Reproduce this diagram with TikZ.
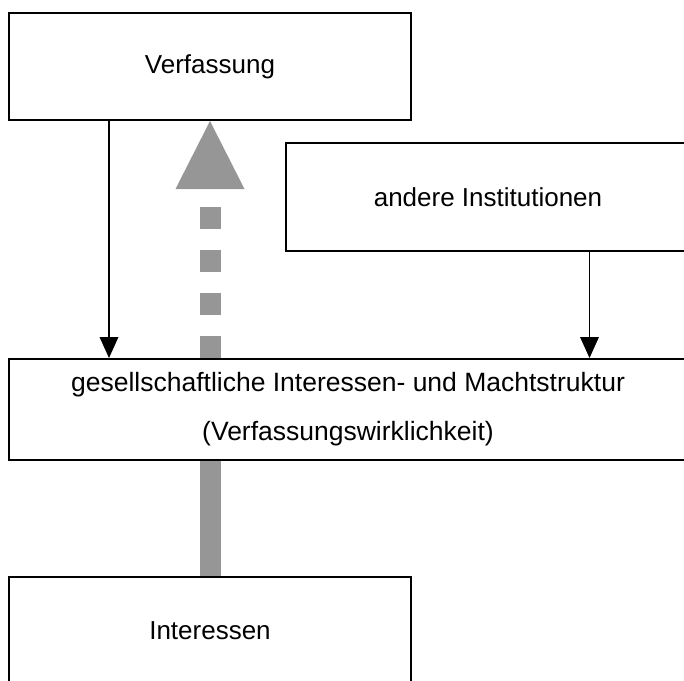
\documentclass[tikz,border=0pt]{standalone}
\usepackage{fontspec}
\setmainfont{Liberation Sans}
\usetikzlibrary{arrows.meta,calc}
\definecolor{arrgray}{RGB}{150,150,150}
\begin{document}
\begin{tikzpicture}[x=1pt,y=-1pt,
  box/.style={draw=black,line width=2pt,rectangle,inner sep=0pt,font=\fontsize{26}{49}\selectfont,align=center},
  blk/.style={draw=black,line width=1.5pt,-{Triangle[width=19pt,length=21pt,line width=0pt]}},
  grayup/.style={draw=arrgray,line width=21pt,dash pattern=on 22pt off 21pt,-{Triangle[width=69pt,length=68pt,line width=0pt,fill=arrgray]}},
  graybar/.style={draw=arrgray,line width=21pt}]
\useasboundingbox (0,0) rectangle (684,680);
\clip (0,0) rectangle (684,680);
\node[box,minimum width=402pt,minimum height=107pt] (verf) at (210,66.5) {Verfassung};
\node[box,minimum width=404pt,minimum height=108pt] (andere) at (488,197) {andere Institutionen};
\node[box,minimum width=678pt,minimum height=101pt,font=\fontsize{26.5}{49}\selectfont] (gesell) at (348,409.5) {gesellschaftliche Interessen- und Machtstruktur\\(Verfassungswirklichkeit)};
\node[box,minimum width=402pt,minimum height=107pt] (inter) at (210,630.5) {Interessen};
\coordinate (v1) at ($(verf.south west)!0.25!(verf.south east)$);
\coordinate (a1) at ($(andere.south west)!0.75!(andere.south east)$);
\draw[blk] (v1) -- (v1 |- gesell.north);
\draw[blk] (a1) -- (a1 |- gesell.north);
\draw[grayup] (verf.south |- gesell.north) -- (verf.south);
\draw[graybar] (inter.north |- gesell.south) -- (inter.north);
\end{tikzpicture}
\end{document}
